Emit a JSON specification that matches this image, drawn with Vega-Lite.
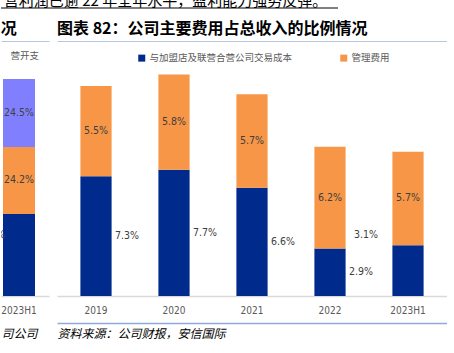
{
  "$schema": "https://vega.github.io/schema/vega-lite/v6.json",
  "padding": 0,
  "background": "white",
  "config": {
    "view": {"stroke": null},
    "title": {"font": "Noto Sans CJK SC", "fontSize": 16, "fontWeight": "bold", "anchor": "start", "color": "#000000", "offset": 4, "baseline": "alphabetic"}
  },
  "datasets": {
    "main": [
      {"year": "2019", "type": "与加盟店及联营合营公司交易成本", "value": 0.073},
      {"year": "2019", "type": "管理费用", "value": 0.055},
      {"year": "2020", "type": "与加盟店及联营合营公司交易成本", "value": 0.077},
      {"year": "2020", "type": "管理费用", "value": 0.058},
      {"year": "2021", "type": "与加盟店及联营合营公司交易成本", "value": 0.066},
      {"year": "2021", "type": "管理费用", "value": 0.057},
      {"year": "2022", "type": "与加盟店及联营合营公司交易成本", "value": 0.029},
      {"year": "2022", "type": "管理费用", "value": 0.062},
      {"year": "2023H1", "type": "与加盟店及联营合营公司交易成本", "value": 0.031},
      {"year": "2023H1", "type": "管理费用", "value": 0.057}
    ],
    "left": [
      {"cat": "2023H1", "type": "主营业务成本", "value": 0.296},
      {"cat": "2023H1", "type": "管理费用", "value": 0.242},
      {"cat": "2023H1", "type": "营开支", "value": 0.245}
    ]
  },
  "vconcat": [
    {
      "width": 337,
      "height": 8,
      "data": {"values": [{"t": "营利润已逾 22 年全年水平，盈利能力强势反弹。"}]},
      "layer": [
        {
          "mark": {"type": "text", "clip": true, "font": "Noto Sans CJK SC", "fontSize": 15, "color": "#000000", "baseline": "alphabetic", "align": "center", "dx": -4, "dy": 2},
          "encoding": {"text": {"field": "t"}}
        },
        {
          "mark": {"type": "rule", "color": "#000000", "strokeWidth": 1},
          "encoding": {"y": {"datum": 0, "type": "quantitative", "scale": {"domain": [0, 1]}, "axis": null}}
        }
      ]
    },
    {
      "hconcat": [
        {
          "width": 48,
          "height": 255,
          "title": {"text": "况"},
          "data": {"name": "left"},
          "layer": [
            {
              "mark": {"type": "bar", "width": 32},
              "encoding": {
                "x": {"field": "cat", "type": "nominal", "scale": {"paddingInner": 0, "paddingOuter": 0.1667, "align": 0},
                  "axis": {"title": null, "labelAngle": 0, "ticks": false, "labelFont": "DejaVu Sans Condensed, Liberation Sans, sans-serif", "labelFontSize": 10, "labelColor": "#595959", "labelPadding": 9, "domainColor": "#d9d9d9", "domainWidth": 1.5}},
                "y": {"field": "value", "type": "quantitative", "stack": "zero", "scale": {"domain": [0, 0.92], "nice": false}, "axis": null},
                "color": {"field": "type", "type": "nominal",
                  "scale": {"domain": ["主营业务成本", "管理费用", "营开支"], "range": ["#002b8c", "#f79646", "#8080ff"]},
                  "legend": {"values": ["营开支"], "orient": "none", "legendX": 0, "legendY": 10, "title": null, "symbolSize": 0, "symbolOpacity": 0, "labelOffset": 0, "labelFont": "Noto Sans CJK SC", "labelFontSize": 9.5, "labelColor": "#595959", "padding": 0}},
                "order": {"field": "type", "sort": "ascending"}
              }
            },
            {
              "mark": {"type": "text", "font": "DejaVu Sans Condensed, Liberation Sans, sans-serif", "fontSize": 10.5, "color": "#404040"},
              "encoding": {
                "x": {"field": "cat", "type": "nominal",
                  "axis": {"orient": "bottom", "offset": 27, "labels": false, "ticks": false, "domain": false, "title": "司公司", "titleFont": "Noto Sans CJK SC", "titleFontStyle": "italic", "titleFontWeight": "normal", "titleFontSize": 12, "titleColor": "#000000", "titleAnchor": "start", "titleBaseline": "top", "titlePadding": 5}},
                "y": {"field": "value", "type": "quantitative", "stack": "zero", "bandPosition": 0.5},
                "detail": {"field": "type"},
                "order": {"field": "type", "sort": "ascending"},
                "text": {"field": "value", "type": "quantitative", "format": ".1%"},
                "opacity": {"condition": {"test": "datum.type !== '主营业务成本'", "value": 1}, "value": 0}
              }
            },
            {
              "transform": [{"filter": "datum.type === '主营业务成本'"}],
              "mark": {"type": "text", "clip": true, "font": "DejaVu Sans Condensed, Liberation Sans, sans-serif", "fontSize": 10.5, "color": "#404040", "align": "right", "dx": -14, "dy": -20},
              "encoding": {
                "x": {"field": "cat", "type": "nominal",
                  "axis": {"orient": "top", "labels": false, "ticks": false, "title": null, "domainColor": "#b4c7e7", "domainWidth": 1}},
                "y": {"field": "value", "type": "quantitative", "stack": "zero", "bandPosition": 0.5},
                "text": {"field": "value", "type": "quantitative", "format": ".1%"}
              }
            }
          ],
          "resolve": {"axis": {"x": "independent"}}
        },
        {
          "width": 390,
          "height": 255,
          "title": {"text": "图表 82：公司主要费用占总收入的比例情况"},
          "data": {"name": "main"},
          "layer": [
            {
              "mark": {"type": "bar"},
              "encoding": {
                "x": {"field": "year", "type": "nominal", "sort": null, "scale": {"paddingInner": 0.6, "paddingOuter": 0.3},
                  "axis": {"title": null, "labelAngle": 0, "ticks": false, "labelFont": "DejaVu Sans Condensed, Liberation Sans, sans-serif", "labelFontSize": 10, "labelColor": "#595959", "labelPadding": 9, "domainColor": "#d9d9d9", "domainWidth": 1.5}},
                "y": {"field": "value", "type": "quantitative", "stack": "zero", "scale": {"domain": [0, 0.1555], "nice": false}, "axis": null},
                "color": {"field": "type", "type": "nominal",
                  "scale": {"domain": ["与加盟店及联营合营公司交易成本", "管理费用"], "range": ["#002b8c", "#f79646"]},
                  "legend": {"orient": "none", "legendX": 80, "legendY": 12, "direction": "horizontal", "title": null, "symbolType": "square", "symbolSize": 49, "symbolStrokeWidth": 0, "labelOffset": 3, "labelFont": "Noto Sans CJK SC", "labelFontSize": 9.5, "labelColor": "#595959", "labelLimit": 300, "columnPadding": 46, "padding": 0}},
                "order": {"field": "type", "sort": "ascending"}
              }
            },
            {
              "mark": {"type": "text", "font": "DejaVu Sans Condensed, Liberation Sans, sans-serif", "fontSize": 10.5, "color": "#404040"},
              "encoding": {
                "x": {"field": "year", "type": "nominal", "sort": null,
                  "axis": {"orient": "bottom", "offset": 27, "labels": false, "ticks": false, "domainColor": "#8eaadb", "domainWidth": 1.5, "title": "资料来源：公司财报，安信国际", "titleFont": "Noto Sans CJK SC", "titleFontStyle": "italic", "titleFontWeight": "normal", "titleFontSize": 12, "titleColor": "#000000", "titleAnchor": "start", "titleBaseline": "top", "titlePadding": 5}},
                "y": {"field": "value", "type": "quantitative", "stack": "zero", "bandPosition": 0.5},
                "detail": {"field": "type"},
                "order": {"field": "type", "sort": "ascending"},
                "text": {"field": "value", "type": "quantitative", "format": ".1%"},
                "opacity": {"condition": {"test": "datum.type === '管理费用'", "value": 1}, "value": 0}
              }
            },
            {
              "transform": [{"filter": "datum.type !== '管理费用' && datum.year !== '2023H1'"}],
              "mark": {"type": "text", "font": "DejaVu Sans Condensed, Liberation Sans, sans-serif", "fontSize": 10.5, "color": "#404040", "align": "left", "dx": 19},
              "encoding": {
                "x": {"field": "year", "type": "nominal", "sort": null,
                  "axis": {"orient": "top", "labels": false, "ticks": false, "title": null, "domainColor": "#b4c7e7", "domainWidth": 1}},
                "y": {"field": "value", "type": "quantitative", "stack": "zero", "bandPosition": 0.5},
                "text": {"field": "value", "type": "quantitative", "format": ".1%"}
              }
            },
            {
              "transform": [{"filter": "datum.type !== '管理费用' && datum.year === '2023H1'"}],
              "mark": {"type": "text", "font": "DejaVu Sans Condensed, Liberation Sans, sans-serif", "fontSize": 10.5, "color": "#404040", "align": "right", "dx": -30, "dy": -36},
              "encoding": {
                "x": {"field": "year", "type": "nominal", "sort": null, "axis": null},
                "y": {"field": "value", "type": "quantitative", "stack": "zero", "bandPosition": 0.5},
                "text": {"field": "value", "type": "quantitative", "format": ".1%"}
              }
            }
          ],
          "resolve": {"axis": {"x": "independent"}}
        }
      ],
      "spacing": 8,
      "resolve": {"scale": {"color": "independent"}, "legend": {"color": "independent"}}
    }
  ],
  "spacing": 12
}
